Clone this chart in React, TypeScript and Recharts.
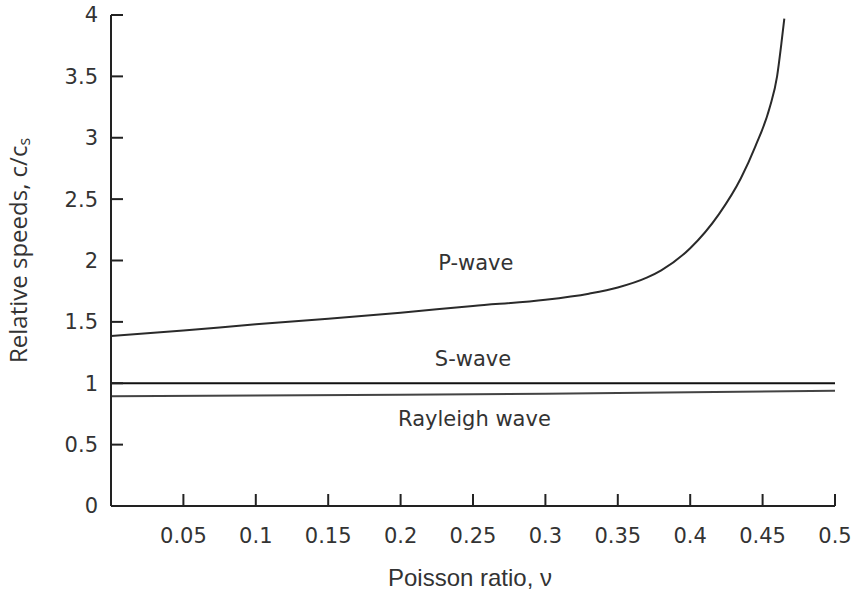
import React from "react";
import { LineChart, Line, XAxis, YAxis, ReferenceDot } from "recharts";

// Poisson ratio (x) and relative speed c/cs (y)
const pNu = [0, 0.05, 0.1, 0.15, 0.2, 0.25, 0.3, 0.33, 0.35, 0.37, 0.38, 0.4, 0.42, 0.435, 0.445, 0.455, 0.46, 0.463, 0.465];
const pSpeed = [1.385, 1.43, 1.48, 1.525, 1.575, 1.63, 1.68, 1.73, 1.78, 1.86, 1.92, 2.1, 2.38, 2.67, 2.93, 3.25, 3.5, 3.77, 3.97];

const sNu = [0, 0.5];
const sSpeed = [1, 1];

const rNu = [0, 0.1, 0.2, 0.3, 0.4, 0.5];
const rSpeed = [0.895, 0.9, 0.907, 0.915, 0.926, 0.938];

const xTicks = [0.05, 0.1, 0.15, 0.2, 0.25, 0.3, 0.35, 0.4, 0.45, 0.5];
const yTicks = [0, 0.5, 1, 1.5, 2, 2.5, 3, 3.5, 4];

const waveLabels = [
  { name: "P-wave", nu: 0.252, speed: 1.98 },
  { name: "S-wave", nu: 0.25, speed: 1.205 },
  { name: "Rayleigh wave", nu: 0.251, speed: 0.71 },
];

const zip = (xs: number[], ys: number[]) => xs.map((x, i) => ({ nu: x, speed: ys[i] }));
const pData = zip(pNu, pSpeed);
const sData = zip(sNu, sSpeed);
const rData = zip(rNu, rSpeed);

const fmt = (v: number) => String(v);
const blank = () => "";

const tickStyle = { fill: "#333", fontSize: 21, fontFamily: "DejaVu Sans" };
const axisStroke = { stroke: "#222", strokeWidth: 2 };

export default function App() {
  return (
    <div style={{ position: "absolute", left: 0, top: 0 }}>
      <LineChart width={855} height={593} margin={{ top: 15, right: 20, bottom: 0, left: 0 }}>
        <XAxis
          xAxisId="b"
          type="number"
          dataKey="nu"
          domain={[0, 0.5]}
          ticks={xTicks}
          interval={0}
          tickFormatter={fmt}
          height={87}
          tickSize={-12}
          tickMargin={34}
          tick={tickStyle}
          axisLine={axisStroke}
          tickLine={axisStroke}
          allowDataOverflow
          label={{
            content: (props: any) => {
              const vb = props.viewBox;
              return (
                <text
                  x={vb.x + vb.width / 2 - 3}
                  y={vb.y + 80}
                  textAnchor="middle"
                  fill="#333"
                  fontSize={24}
                  fontFamily="Liberation Sans"
                >
                  Poisson ratio, ν
                </text>
              );
            },
          }}
        />
        <XAxis
          xAxisId="t"
          orientation="top"
          type="number"
          dataKey="nu"
          domain={[0, 0.5]}
          ticks={xTicks}
          interval={0}
          tickFormatter={blank}
          height={0}
          tickSize={-12}
          axisLine={axisStroke}
          tickLine={axisStroke}
          allowDataOverflow
        />
        <YAxis
          yAxisId="l"
          type="number"
          domain={[0, 4]}
          ticks={yTicks}
          interval={0}
          tickFormatter={fmt}
          width={111}
          tickSize={-12}
          tickMargin={25}
          tick={tickStyle}
          axisLine={axisStroke}
          tickLine={axisStroke}
          allowDataOverflow
          label={{
            content: (props: any) => {
              const vb = props.viewBox;
              const cx = vb.x + 21;
              const cy = vb.y + vb.height / 2 - 10;
              return (
                <text
                  x={cx}
                  y={cy}
                  transform={`rotate(-90 ${cx} ${cy})`}
                  textAnchor="middle"
                  dominantBaseline="middle"
                  fill="#333"
                  fontSize={24}
                  fontFamily="Open Sans"
                >
                  Relative speeds, c/c
                  <tspan fontSize={16} dy={5}>s</tspan>
                </text>
              );
            },
          }}
        />
        <YAxis
          yAxisId="r"
          orientation="right"
          type="number"
          domain={[0, 4]}
          ticks={yTicks}
          interval={0}
          tickFormatter={blank}
          width={0}
          tickSize={-12}
          axisLine={axisStroke}
          tickLine={axisStroke}
          allowDataOverflow
        />
        <Line
          xAxisId="b"
          yAxisId="l"
          data={pData}
          dataKey="speed"
          type="monotone"
          stroke="#2a2a2a"
          strokeWidth={2}
          dot={false}
          isAnimationActive={false}
        />
        <Line
          xAxisId="b"
          yAxisId="l"
          data={sData}
          dataKey="speed"
          type="linear"
          stroke="#111"
          strokeWidth={2}
          dot={false}
          isAnimationActive={false}
        />
        <Line
          xAxisId="b"
          yAxisId="l"
          data={rData}
          dataKey="speed"
          type="linear"
          stroke="#444"
          strokeWidth={2}
          dot={false}
          isAnimationActive={false}
        />
        {waveLabels.map((w) => (
          <ReferenceDot
            key={w.name}
            xAxisId="b"
            yAxisId="l"
            x={w.nu}
            y={w.speed}
            r={0}
            fill="none"
            stroke="none"
            label={{
              value: w.name,
              position: "center",
              fill: "#333",
              fontSize: 21,
              fontFamily: "DejaVu Sans",
            }}
          />
        ))}
      </LineChart>
    </div>
  );
}
